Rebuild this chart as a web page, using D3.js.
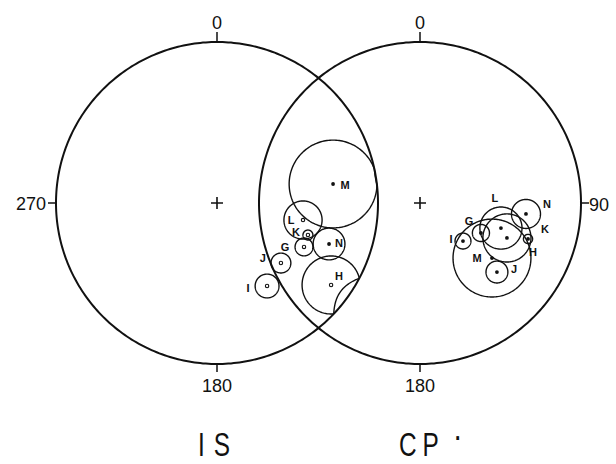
<!DOCTYPE html>
<html>
<head>
<meta charset="utf-8">
<script src="https://cdn.jsdelivr.net/npm/d3@7"></script>
<style>
  body { margin: 0; background: #fff; }
  text { font-family: "Liberation Sans", Arial, sans-serif; fill: #111; }
</style>
</head>
<body>
<svg id="chart" width="616" height="464"></svg>
<script>
////////////////////////////////////////////////////////////////////////
// data -- poles with 95% confidence circles, equal-area nets
////////////////////////////////////////////////////////////////////////
const poleLabels = ["G", "H", "I", "J", "K", "L", "M", "N"];

// IS net: declination, inclination, alpha95 (degrees)
const isDec = [116.8, 125.7, 148.9, 133.2, 109.4, 101.2, 80.7, 110.1];
const isInc = [39.3, 13.8, 39.6, 44.7, 39.9, 44.7, 27.8, 26.8];
const isA95 = [4.5, 14.6, 6.0, 5.0, 2.5, 9.6, 22.1, 8.0];
const isFilled = [false, false, false, false, false, false, true, true];

// CP net
const cpDec = [116.2, 111.9, 131.5, 131.9, 108.4, 107.2, 127.4, 95.9];
const cpInc = [55.3, 41.4, 60.8, 36.0, 30.0, 46.3, 43.1, 34.2];
const cpA95 = [4.3, 12.1, 4.0, 5.5, 2.3, 10.6, 19.6, 7.3];
const cpFilled = [true, true, true, true, true, true, true, true];

// azimuth tick labels shown on each net
const isTicks = [0, 180, 270];
const cpTicks = [0, 90, 180];

const netNames = ["IS", "CP"];


////////////////////////////////////////////////////////////////////////
// layout
////////////////////////////////////////////////////////////////////////
const netRadius = 161;
const layout = {
  IS: {cx: 217, cy: 203, titleX: 198, spacing: 12, tail: ""},
  CP: {cx: 420, cy: 203, titleX: 399, spacing: 8, tail: "·"}
};

// where each pole letter sits relative to its dot
const labelOffset = {
  IS: {G: [-19, 0], H: [8, -9], I: [-19, 2], J: [-18, -5], K: [-12, -3], L: [-12, 0], M: [12, 1], N: [10, -1]},
  CP: {G: [-12, -12], H: [26, 14], I: [-12, -2], J: [17, -3], K: [17, -10], L: [-6, -30], M: [-15, 0], N: [21, -10]}
};

const svg = d3.select("#chart");
svg.append("rect").attr("width", 616).attr("height", 464).attr("fill", "#fff");


////////////////////////////////////////////////////////////////////////
//
// draw one net: primitive, ticks, centre cross, confidence circles
//
////////////////////////////////////////////////////////////////////////
function drawNet(name, dec, inc, a95, filled, ticks)
  {
  const L = layout[name];

  // lower hemisphere, north up, east to the right
  const proj = d3.geoAzimuthalEqualArea()
    .rotate([0, -90, 180])
    .reflectX(true)
    .scale(netRadius / Math.SQRT2)
    .translate([L.cx, L.cy]);

  const g = svg.append("g");

  //primitive circle
  g.append("path")
    .attr("d", d3.geoPath(proj)(d3.geoCircle().center([0, 90]).radius(90).precision(1)()))
    .attr("fill", "none")
    .attr("stroke", "#111")
    .attr("stroke-width", 2);

  //centre cross
  const c = proj([0, 90]);
  g.append("path")
    .attr("d", `M${c[0] - 6},${c[1]}H${c[0] + 6}M${c[0]},${c[1] - 6}V${c[1] + 6}`)
    .attr("stroke", "#111")
    .attr("stroke-width", 1.6);

  //ticks and azimuth labels
  ticks.forEach(az =>
    {
    const p = proj([az, 0]);
    const ux = (p[0] - c[0]) / netRadius, uy = (p[1] - c[1]) / netRadius;
    const len = az === 0 ? 10 : 8;
    g.append("line")
      .attr("x1", p[0]).attr("y1", p[1])
      .attr("x2", p[0] + ux * len).attr("y2", p[1] + uy * len)
      .attr("stroke", "#111").attr("stroke-width", 1.5);

    const t = g.append("text").attr("font-size", 18).text(az);
    if(az === 0)        t.attr("x", p[0]).attr("y", p[1] - len - 3).attr("text-anchor", "middle");
    else if(az === 180) t.attr("x", p[0]).attr("y", p[1] + len + 20).attr("text-anchor", "middle");
    else if(az === 270) t.attr("x", p[0] - len - 2).attr("y", p[1] + 7).attr("text-anchor", "end");
    else                t.attr("x", p[0] + len).attr("y", p[1] + 8).attr("text-anchor", "start");
    });

  //confidence circles, folded back at the primitive
  const R2 = 2 * netRadius * netRadius;
  const line = d3.line().curve(d3.curveLinearClosed);

  poleLabels.forEach((lab, i) =>
    {
    const p = proj([dec[i], inc[i]]);
    const r = a95[i] * Math.PI / 180 * proj.scale();

    const pts = d3.range(0, 360, 2).map(a =>
      {
      const t = a * Math.PI / 180;
      let x = p[0] + r * Math.cos(t) - c[0];
      let y = p[1] + r * Math.sin(t) - c[1];
      const rho = Math.hypot(x, y);
      if(rho > netRadius)
        {
        const k = Math.sqrt(Math.max(0, R2 - rho * rho)) / rho;
        x *= k; y *= k;
        }
      return [x + c[0], y + c[1]];
      });

    g.append("path")
      .attr("d", line(pts))
      .attr("fill", "none")
      .attr("stroke", "#111")
      .attr("stroke-width", 1.4);

    g.append("circle")
      .attr("cx", p[0]).attr("cy", p[1])
      .attr("r", filled[i] ? 1.9 : 1.7)
      .attr("fill", filled[i] ? "#111" : "none")
      .attr("stroke", "#111")
      .attr("stroke-width", filled[i] ? 0 : 1.1);

    const off = labelOffset[name][lab];
    g.append("text")
      .attr("x", p[0] + off[0]).attr("y", p[1] + off[1] + 4)
      .attr("text-anchor", "middle")
      .attr("font-size", 11)
      .attr("font-weight", "bold")
      .text(lab);
    });

  //net title
  const title = svg.append("text")
    .attr("transform", `translate(${L.titleX},456) scale(0.74,1)`)
    .attr("font-size", 33)
    .attr("letter-spacing", L.spacing);
  title.append("tspan").text(name);
  if(L.tail)
    title.append("tspan").attr("dx", 14).attr("dy", -9).attr("font-size", 26).attr("font-weight", "bold").text(L.tail);
  }


drawNet("IS", isDec, isInc, isA95, isFilled, isTicks);
drawNet("CP", cpDec, cpInc, cpA95, cpFilled, cpTicks);
</script>
</body>
</html>
